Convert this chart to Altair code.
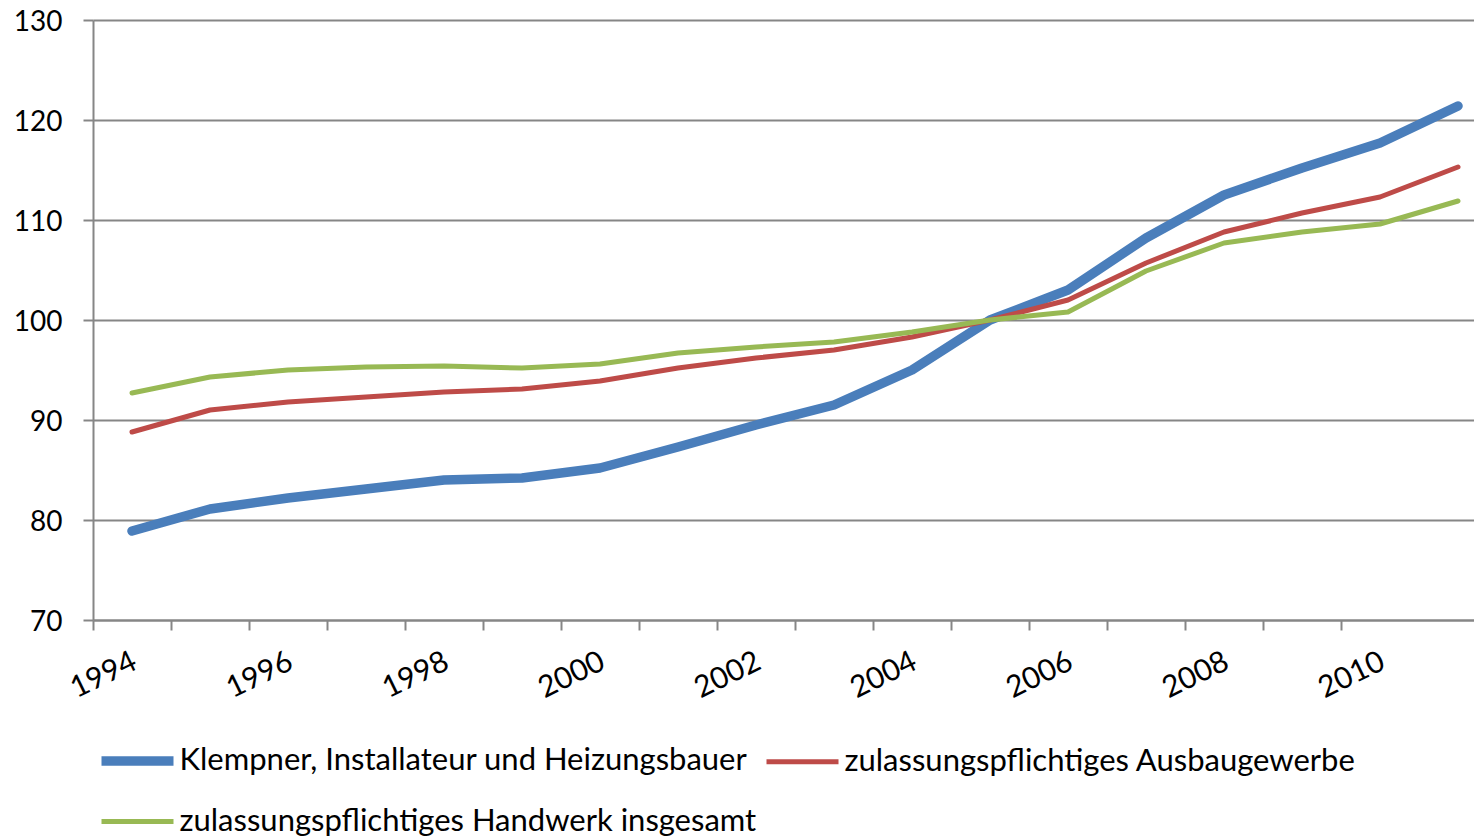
import altair as alt
import pandas as pd

years = list(range(1994, 2012))
klempner = [78.9, 81.1, 82.2, 83.1, 84.0, 84.2, 85.2, 87.3, 89.5, 91.5, 95.0, 100.0, 103.0, 108.2, 112.5, 115.2, 117.7, 121.4]
ausbau = [88.8, 91.0, 91.8, 92.3, 92.8, 93.1, 93.9, 95.2, 96.2, 97.0, 98.3, 100.0, 102.0, 105.7, 108.8, 110.7, 112.3, 115.3]
handwerk = [92.7, 94.3, 95.0, 95.3, 95.4, 95.2, 95.6, 96.7, 97.3, 97.8, 98.8, 100.0, 100.8, 104.9, 107.7, 108.8, 109.6, 111.9]

series_names = [
    "Klempner, Installateur und Heizungsbauer",
    "zulassungspflichtiges Ausbaugewerbe",
    "zulassungspflichtiges Handwerk insgesamt",
]
series_values = [klempner, ausbau, handwerk]
colors = ["#4A7EBB", "#BE4B48", "#98B954"]
widths = [9.5, 5, 5]
y_ticks = [70, 80, 90, 100, 110, 120, 130]
x_ticks = [y - 0.5 for y in years[:-1]]  # category boundaries

rows = []
for name, vals in zip(series_names, series_values):
    for yr, v in zip(years, vals):
        rows.append({"Jahr": yr, "Wert": v, "Reihe": name})
df = pd.DataFrame(rows)

PLOT_W = 1381
PLOT_H = 600
x_right = 1993.5 + PLOT_W / 78.0
FONT = "Lato"

legend_kw = dict(
    title=None,
    orient="none",
    legendX=3.5,
    legendY=700,
    direction="horizontal",
    columns=2,
    symbolType="stroke",
    symbolSize=5184,
    labelFont=FONT,
    labelFontSize=31,
    labelColor="#000000",
    labelLimit=2000,
    labelOffset=1,
    columnPadding=0,
    rowPadding=3,
    padding=0,
)

chart = (
    alt.Chart(df)
    .mark_line(strokeCap="round", strokeJoin="round")
    .encode(
        x=alt.X(
            "Jahr:Q",
            scale=alt.Scale(domain=[1993.5, x_right], nice=False, zero=False),
            axis=alt.Axis(
                title=None,
                values=x_ticks,
                grid=False,
                domainColor="#868686",
                domainWidth=2,
                tickColor="#868686",
                tickWidth=2,
                tickSize=10,
                labelExpr="(datum.value + 0.5) % 2 == 0 ? '' + (datum.value + 0.5) : ''",
                labelOffset=35,
                labelAngle=334,
                labelAlign="right",
                labelBaseline="top",
                labelPadding=16,
                labelFont=FONT,
                labelFontSize=30,
                labelColor="#000000",
                labelOverlap=False,
                labelFlush=False,
                labelBound=False,
            ),
        ),
        y=alt.Y(
            "Wert:Q",
            scale=alt.Scale(domain=[70, 130], nice=False, zero=False),
            axis=alt.Axis(
                title=None,
                values=y_ticks,
                grid=True,
                gridColor="#868686",
                gridWidth=2,
                domainColor="#868686",
                domainWidth=2,
                tickColor="#868686",
                tickWidth=2,
                tickSize=10,
                labelPadding=21,
                labelOffset=2,
                labelFont=FONT,
                labelFontSize=28,
                labelColor="#000000",
            ),
        ),
        color=alt.Color(
            "Reihe:N",
            scale=alt.Scale(domain=series_names, range=colors),
            legend=alt.Legend(**legend_kw),
        ),
        strokeWidth=alt.StrokeWidth(
            "Reihe:N",
            scale=alt.Scale(type="ordinal", domain=series_names, range=widths),
            legend=alt.Legend(**legend_kw),
        ),
    )
    .properties(
        width=PLOT_W,
        height=PLOT_H,
        autosize=alt.AutoSizeParams(type="none"),
        padding={"left": 85, "top": 12, "right": 0, "bottom": 218},
        background="white",
    )
    .configure_view(stroke=None)
)

chart.save("out.html", embed_options={"renderer": "svg", "actions": False})
